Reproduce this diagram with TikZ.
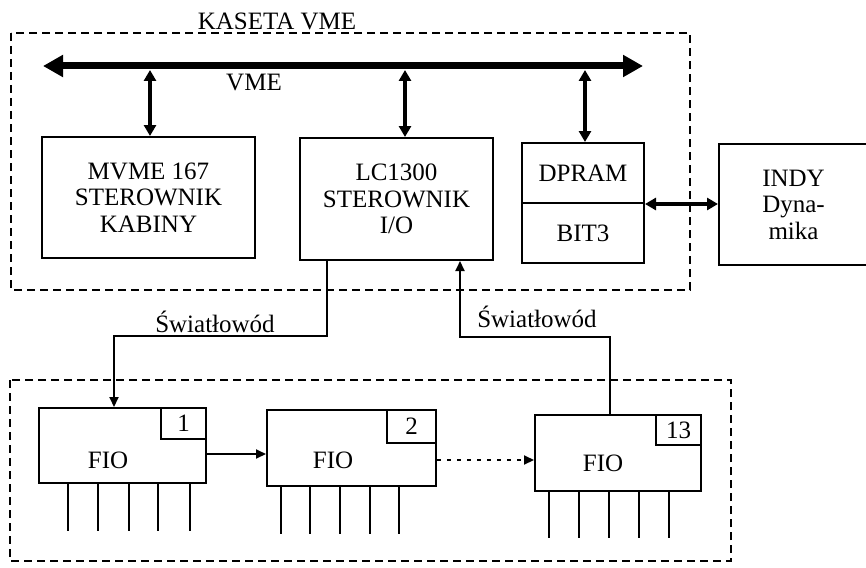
\documentclass[tikz,border=0pt]{standalone}
\usepackage{fontspec}
\setmainfont{Liberation Serif}
\usetikzlibrary{arrows.meta,calc}
\begin{document}
\begin{tikzpicture}[x=1pt,y=-1pt,
  txt/.style={font=\fontsize{25}{26.5}\selectfont, inner sep=0pt},
  blk/.style={draw, line width=2pt, txt, align=center},
  frame/.style={draw, line width=1.3pt, dash pattern=on 8pt off 5pt},
  bus/.style={line width=7pt, {Triangle[length=20pt 0, width=21pt 0]}-{Triangle[length=20pt 0, width=21pt 0]}},
  dbl/.style={line width=3.4pt, {Triangle[length=11pt 0, width=12pt 0]}-{Triangle[length=11pt 0, width=12pt 0]}},
  sig/.style={line width=2pt, -{Triangle[length=10pt 0, width=9pt 0]}},
  dots/.style={line width=2pt, dash pattern=on 4pt off 6pt, -{Triangle[length=10pt 0, width=9pt 0]}},
  pin/.style={line width=2.8pt},
  fiobox/.style={draw, line width=2pt, inner sep=0pt},
  numbox/.style={draw, line width=2pt, txt}
]
\useasboundingbox (0,0) rectangle (866,567);

% VME crate
\draw[frame] (11,33) rectangle (690,290);
\node[txt] (kt) at (277,21) {KASETA VME};

% bus
\coordinate (busL) at (43,66);
\coordinate (busR) at (643,66);
\draw[bus] (busL) -- (busR);
\node[txt] (vme) at (254,83) {VME};
\coordinate (t1) at (150,70);
\coordinate (t2) at (405,70);
\coordinate (t3) at (585,70);

% boards
\node[blk, minimum width=213pt, minimum height=121pt] (mvme) at (148.5,197.5) {MVME 167\\STEROWNIK\\KABINY};
\node[blk, minimum width=193pt, minimum height=122pt] (lc) at (396.5,199) {LC1300\\STEROWNIK\\I/O};
\node[blk, minimum width=122pt, minimum height=60pt] (dpram) at (583,173) {DPRAM};
\node[blk, minimum width=122pt, minimum height=60pt] (bit3) at (583,233) {BIT3};
\node[blk, minimum width=149pt, minimum height=121pt] (indy) at (793.5,204.5) {INDY\\Dyna-\\mika};

\draw[dbl] (t1) -- (t1 |- mvme.north);
\draw[dbl] (t2) -- (t2 |- lc.north);
\draw[dbl] (t3) -- (t3 |- dpram.north);
\draw[dbl] ($(bit3.north east)+(0,2)$) -- ($(indy.west |- bit3.north east)+(0,2)$);

% FIO rack
\draw[frame] (10,380) rectangle (731,561);

\node[fiobox, minimum width=167pt, minimum height=75pt] (fio1) at (122.5,445.5) {};
\node[numbox, minimum width=45pt, minimum height=31pt] (n1) at (183.5,423.5) {1};
\node[txt] (l1) at (108,460) {FIO};

\node[fiobox, minimum width=169pt, minimum height=76pt] (fio2) at (351.5,448) {};
\node[numbox, minimum width=49pt, minimum height=33pt] (n2) at (411.5,426.5) {2};
\node[txt] (l2) at (333,460) {FIO};

\node[fiobox, minimum width=166pt, minimum height=76pt] (fio13) at (618,453) {};
\node[numbox, minimum width=45pt, minimum height=30pt] (n13) at (678.5,430) {13};
\node[txt] (l13) at (603,463) {FIO};

\foreach \d in {30,60,91,120,152}
  \draw[pin] ($(fio1.south west)+(\d,0)$) -- ++(0,47);
\foreach \d in {15,44,74,104,133}
  \draw[pin] ($(fio2.south west)+(\d,0)$) -- ++(0,47);
\foreach \d in {15,45,75,105,135}
  \draw[pin] ($(fio13.south west)+(\d,0)$) -- ++(0,46);

\draw[sig] ($(fio1.east)+(0,8.5)$) -- ($(fio2.west |- fio1.east)+(0,8.5)$);
\draw[dots] ($(fio2.east)+(0,12)$) -- ($(fio13.west |- fio2.east)+(0,12)$);

% fibres
\draw[sig] ($(lc.south west)+(28,0)$) -- ++(0,75) -| ($(fio1.north west)+(76,0)$);
\node[txt] (sw1) at (215,322) {Światłowód};
\draw[sig] ($(fio13.north west)+(76,0)$) -- ++(0,-77) -| ($(lc.south west)+(161,0)$);
\node[txt] (sw2) at (537,317) {Światłowód};
\end{tikzpicture}
\end{document}
